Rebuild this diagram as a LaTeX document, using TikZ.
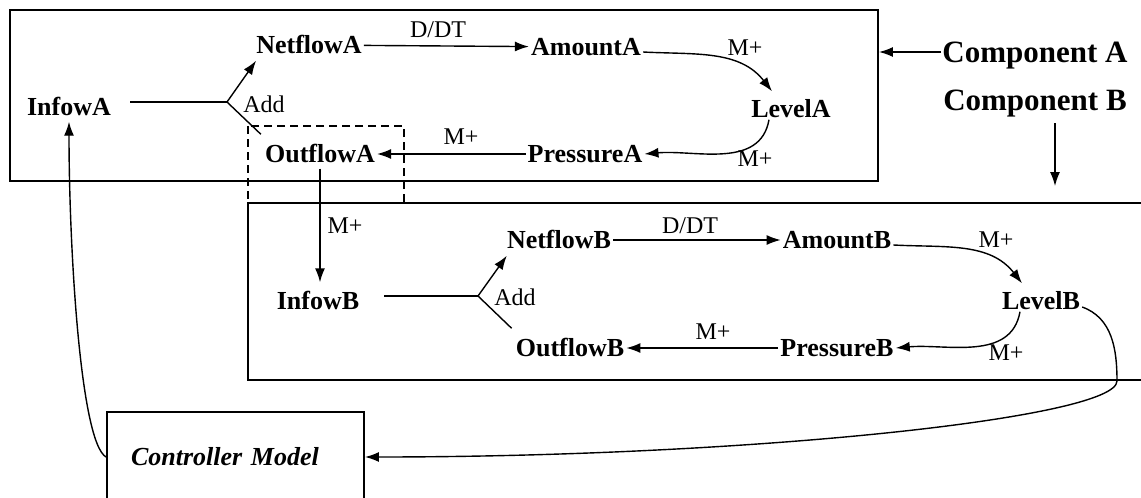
\documentclass[tikz,border=0pt]{standalone}
\usepackage{fontspec}
\setmainfont{Liberation Serif}
\usetikzlibrary{arrows.meta}

\begin{document}
\begin{tikzpicture}[x=1pt,y=1pt,>={Latex[length=14pt,width=10pt]},
  var/.style={font=\fontsize{26}{30}\selectfont\bfseries,inner sep=2pt,text height=17pt,text depth=0pt},
  lbl/.style={font=\fontsize{24}{28}\selectfont,inner sep=0pt},
  link/.style={line width=1.4pt},
  frame/.style={draw,line width=1.9pt,inner sep=0pt}]
\useasboundingbox (0,0) rectangle (1141,-498);
\clip (0,0) rectangle (1141,-498);
% frames of the two components
\node[frame,minimum width=868pt,minimum height=171pt] (boxA) at (444,-95.5) {};
\node[frame,minimum width=912pt,minimum height=177pt] (boxB) at (704,-291.5) {};
\draw[line width=1.5pt,dash pattern=on 8pt off 5pt] (248,-126) rectangle (404,-203);
\node[var,font=\fontsize{31}{36}\selectfont\bfseries,text height=20pt,inner sep=1pt] (compA) at (1035,-52) {Component A};
\node[var,font=\fontsize{31}{36}\selectfont\bfseries,text height=20pt,inner sep=1pt] (compB) at (1035,-100) {Component B};
\draw[link,->] (compA.west) -- (compA.west -| boxA.east);
\draw[link,->,shorten <=12pt,shorten >=16pt] ([xshift=20pt]compB.south) -- ([xshift=20pt]compB.south |- boxB.north);

% component A
\node[var] (infA) at (69,-107) {InfowA};
\node[var] (netA) at (309,-45) {NetflowA};
\node[var] (amtA) at (586,-47) {AmountA};
\node[var] (lvlA) at (791,-109) {LevelA};
\node[var] (prsA) at (585,-154) {PressureA};
\node[var] (outA) at (320,-154) {OutflowA};
\coordinate (jA) at (227,-102);
\draw[link] ([shift={(17,5)}]infA.east) -- (jA);
\draw[link,->] (jA) -- ([shift={(2,-5)}]netA.south west);
\draw[link] (jA) -- ([shift={(-2,9)}]outA.north west);
\draw[link,->] (netA) -- (amtA);
\draw[link,->] ([yshift=-5pt]amtA.east) to[out=-3,in=128] ([shift={(-19,7)}]lvlA.north);
\draw[link,->] ([xshift=-22pt]lvlA.south) to[out=-100,in=5] (prsA.east);
\draw[link,->] (prsA) -- (outA);
\node[lbl] (ddtA) at (438,-30) {D/DT};
\node[lbl] (addA) at (264,-104) {Add};
\node[lbl] (mpA1) at (745,-48) {M+};
\node[lbl] (mpA2) at (755,-159) {M+};
\node[lbl] (mpA3) at (461,-137) {M+};

% component B
\node[var] (infB) at (318,-301) {InfowB};
\node[var] (netB) at (559,-240) {NetflowB};
\node[var] (amtB) at (837,-240) {AmountB};
\node[var] (lvlB) at (1041,-301) {LevelB};
\node[var] (prsB) at (837,-348) {PressureB};
\node[var] (outB) at (570,-348) {OutflowB};
\coordinate (jB) at (478,-296);
\draw[link] ([shift={(23,5)}]infB.east) -- (jB);
\draw[link,->] (jB) -- ([shift={(2,-5)}]netB.south west);
\draw[link] (jB) -- ([shift={(-2,9)}]outB.north west);
\draw[link,->] (netB) -- (amtB);
\draw[link,->] ([yshift=-5pt]amtB.east) to[out=-3,in=128] ([shift={(-19,7)}]lvlB.north);
\draw[link,->] ([xshift=-21pt]lvlB.south) to[out=-100,in=5] (prsB.east);
\draw[link,->] (prsB) -- (outB);
\node[lbl] (ddtB) at (690,-226) {D/DT};
\node[lbl] (addB) at (515,-297) {Add};
\node[lbl] (mpB1) at (996,-240) {M+};
\node[lbl] (mpB2) at (1006,-353) {M+};
\node[lbl] (mpB3) at (713,-332) {M+};

% link between the components
\draw[link,->,shorten <=4pt,shorten >=8pt] (outA.south) -- (outA.south |- infB.north);
\node[lbl] (mpAB) at (345,-226) {M+};

% controller
\node[draw,line width=1.9pt,font=\fontsize{26}{30}\selectfont\bfseries\itshape,text height=17pt,text depth=0pt,
  text width=209pt,inner xsep=24pt,minimum height=90pt,align=left] (ctrl) at (235.5,-457) {Controller Model};
\coordinate (bend) at (1117,-381);
\draw[link,->] ([yshift=-6pt]lvlB.east) to[out=-20,in=90] (bend) .. controls (1117,-418) and (750,-457) .. (ctrl.east);
\draw[link,->,shorten >=4pt] (ctrl.west) to[out=150,in=-90,out distance=30pt,in distance=128pt] (infA.south);
\end{tikzpicture}
\end{document}
